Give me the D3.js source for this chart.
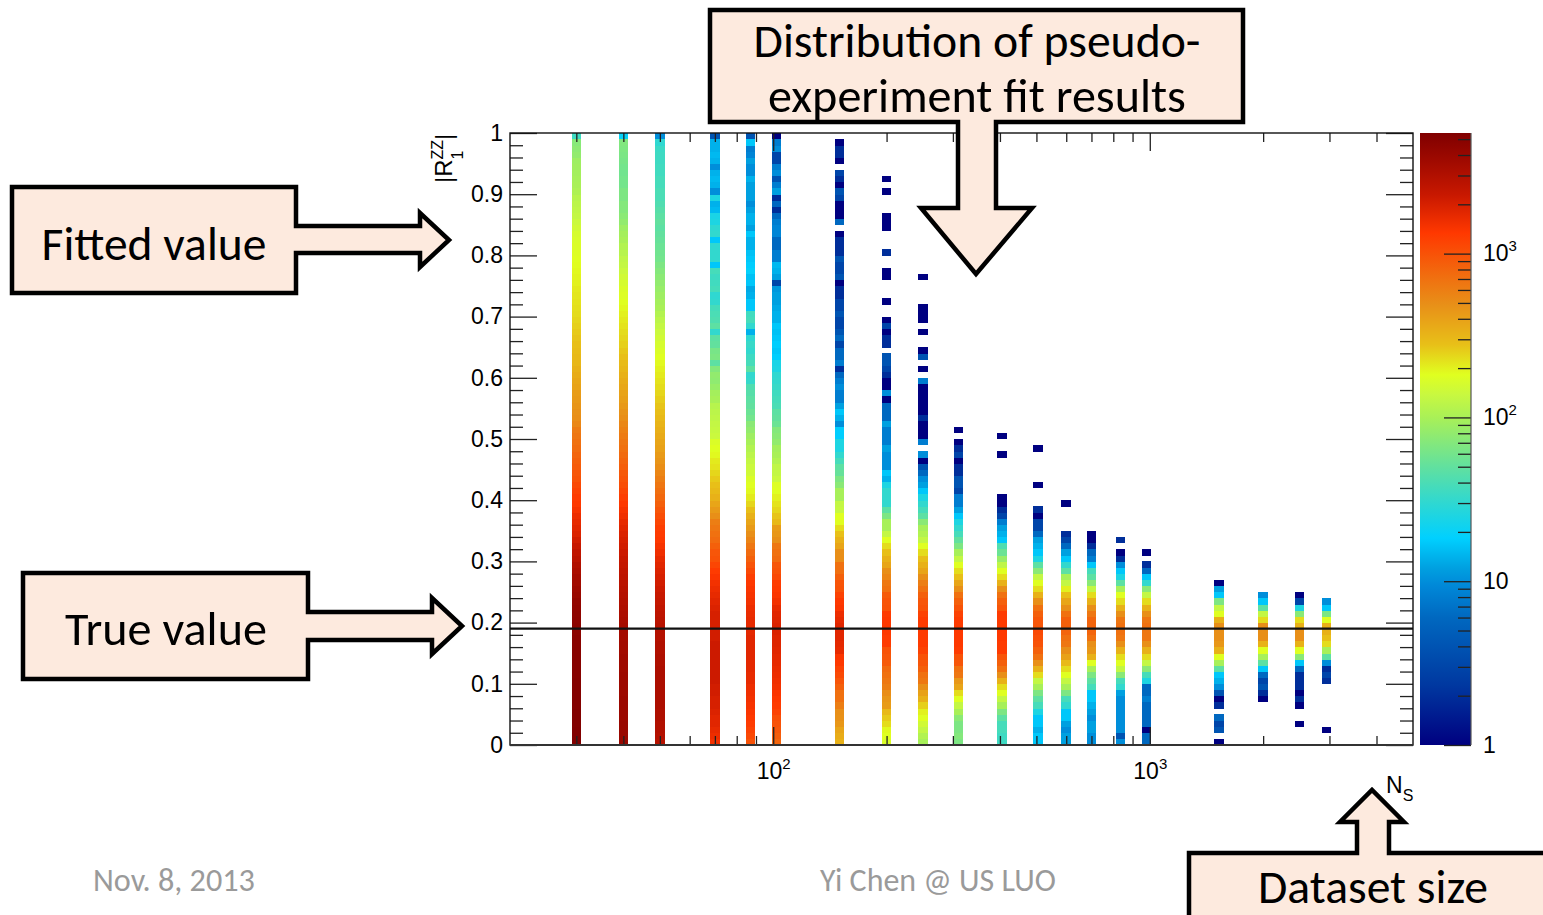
<!DOCTYPE html>
<html>
<head>
<meta charset="utf-8">
<script src="https://cdn.jsdelivr.net/npm/d3@7"></script>
<style>
  body { margin: 0; background: #fff; }
  svg { display: block; }
  .axis text { font-family: "Liberation Sans", Arial, sans-serif; font-size: 23px; fill: #000; }
  .axis line { stroke: #222; stroke-width: 1.3; }
  .axis path { display: none; }
</style>
</head>
<body>
<svg id="chart" width="1543" height="915"></svg>
<script>
// pseudo-experiment dataset sizes (x position of each column)
const nsValues = [30, 40, 50, 70, 87, 102, 150, 200, 250, 310, 405, 505, 600, 700, 835, 980, 1525, 2000, 2500, 2950];
// first y-bin (0.01 wide) of each column
const firstBin = [0, 0, 0, 0, 0, 0, 0, 0, 0, 0, 0, 0, 0, 0, 0, 0, 0, 7, 3, 2];

// entries per y-bin
const counts30 = [
  5400, 5400, 5400, 5300, 5300, 5300, 5200, 5200, 5200, 5100,
  5100, 5000, 5000, 5000, 4900, 4900, 4800, 4800, 4700, 4700,
  4600, 4500, 4400, 4300, 4000, 3800, 3600, 3400, 3200, 3000,
  2700, 2500, 2300, 2100, 1900, 1800, 1700, 1600, 1450, 1350,
  1300, 1200, 1100, 1000, 950, 900, 850, 800, 740, 700,
  660, 620, 540, 500, 480, 460, 440, 420, 390, 370,
  350, 330, 310, 300, 290, 280, 270, 260, 250, 240,
  230, 225, 220, 215, 210, 200, 195, 190, 185, 180,
  175, 170, 165, 160, 150, 140, 130, 125, 120, 115,
  105, 100, 98, 95, 92, 90, 80, 76, 72, 35];
const counts40 = [
  4000, 4000, 4000, 4000, 3900, 3900, 3900, 3900, 3800, 3800,
  3800, 3800, 3700, 3700, 3700, 3600, 3600, 3500, 3500, 3400,
  3300, 3200, 3100, 3000, 2900, 2800, 2700, 2600, 2500, 2400,
  2300, 2200, 2100, 2000, 1900, 1800, 1700, 1550, 1450, 1350,
  1250, 1150, 1050, 980, 920, 860, 800, 750, 700, 660,
  620, 580, 540, 500, 470, 440, 410, 390, 370, 350,
  330, 310, 295, 280, 265, 250, 240, 230, 220, 210,
  200, 190, 180, 175, 170, 160, 150, 140, 130, 125,
  115, 110, 100, 95, 90, 80, 75, 70, 70, 65,
  65, 60, 60, 58, 60, 62, 64, 66, 68, 20];
const counts50 = [
  2800, 2900, 3000, 3000, 3100, 3100, 3200, 3200, 3200, 3200,
  3200, 3200, 3200, 3100, 3100, 3000, 3000, 2900, 2900, 2800,
  2700, 2600, 2500, 2400, 2300, 2200, 2100, 2000, 1900, 1800,
  1700, 1550, 1450, 1350, 1300, 1250, 1150, 1050, 950, 850,
  780, 720, 660, 600, 550, 500, 460, 430, 400, 380,
  360, 340, 320, 300, 285, 270, 255, 240, 230, 220,
  210, 200, 190, 180, 170, 160, 150, 140, 130, 120,
  110, 100, 95, 90, 85, 80, 75, 70, 65, 60,
  58, 55, 52, 50, 48, 50, 48, 45, 42, 40,
  40, 38, 38, 36, 36, 35, 35, 34, 30, 10];
const counts70 = [
  1500, 1600, 1700, 1800, 1800, 1900, 2000, 2000, 2100, 2100,
  2200, 2200, 2200, 2200, 2200, 2200, 2200, 2100, 2100, 2000,
  2000, 2000, 1900, 1800, 1700, 1600, 1500, 1400, 1300, 1150,
  1000, 950, 850, 750, 700, 650, 600, 490, 430, 380,
  330, 300, 280, 260, 240, 220, 210, 190, 180, 170,
  140, 135, 130, 125, 120, 115, 100, 95, 85, 78,
  80, 70, 48, 65, 62, 50, 48, 31, 48, 42,
  40, 38, 31, 30, 38, 36, 35, 38, 17, 31,
  31, 30, 17, 31, 30, 25, 24, 15, 14, 25,
  10, 14, 15, 14, 10, 14, 15, 14, 14, 4];
const counts87 = [
  1000, 1100, 1200, 1300, 1350, 1400, 1450, 1500, 1550, 1600,
  1700, 1700, 1750, 1750, 1800, 1800, 1800, 1800, 1750, 1700,
  1700, 1650, 1600, 1500, 1450, 1400, 1350, 1250, 1100, 980,
  850, 750, 650, 560, 490, 430, 380, 330, 280, 240,
  210, 190, 180, 170, 150, 140, 130, 120, 110, 98,
  90, 80, 74, 60, 55, 50, 48, 45, 42, 32,
  31, 48, 38, 35, 31, 33, 30, 14, 31, 38,
  36, 17, 17, 14, 13, 17, 16, 19, 18, 17,
  16, 14, 14, 17, 12, 14, 14, 12, 10, 12,
  12, 12, 14, 10, 10, 12, 9, 8, 17, 4];
const counts102 = [
  800, 880, 950, 1000, 1050, 1200, 1300, 1350, 1400, 1500,
  1550, 1600, 1650, 1700, 1750, 1800, 1850, 1850, 1900, 1900,
  1850, 1800, 1700, 1500, 1400, 1350, 1300, 1100, 1000, 950,
  750, 700, 650, 490, 450, 420, 300, 270, 240, 220,
  200, 180, 175, 140, 130, 125, 110, 100, 95, 80,
  74, 70, 55, 50, 48, 40, 38, 36, 33, 31,
  30, 25, 24, 18, 17, 18, 17, 16, 17, 14,
  14, 13, 12, 12, 11, 3, 12, 14, 15, 8,
  8, 6, 6, 9, 9, 8, 6, 2, 6, 2,
  12, 8, 4, 10, 8, 3, 3, 10, 8, 1];
const counts150 = [
  330, 350, 380, 450, 480, 490, 600, 700, 710, 850,
  980, 1100, 1200, 1350, 1400, 1700, 1750, 1800, 1800, 1800,
  1700, 1600, 1400, 1350, 1200, 1000, 980, 850, 710, 700,
  500, 490, 380, 330, 277, 228, 183, 180, 135, 130,
  98, 98, 74, 65, 52, 48, 38, 31, 25, 25,
  18, 18, 10, 14, 17, 12, 8, 8, 10, 8,
  6, 2, 8, 6, 6, 3, 6, 4, 3, 3,
  4, 3, 3, 2, 2, 1, 4, 3, 3, 4,
  2, 2, 2, 1, 0, 6, 1, 1, 1, 3,
  4, 1, 2, 3, 0, 1, 2, 2, 1];
const counts200 = [
  170, 180, 190, 230, 260, 300, 420, 450, 500, 600,
  650, 700, 750, 900, 950, 1000, 1300, 1300, 1350, 1350,
  1350, 1300, 1000, 980, 900, 700, 650, 550, 490, 380,
  330, 280, 230, 180, 130, 98, 98, 65, 48, 31,
  31, 31, 25, 14, 17, 10, 10, 10, 12, 8,
  8, 8, 12, 6, 6, 6, 1, 10, 1, 1,
  2, 3, 4, 4, 0, 2, 2, 1, 3, 1,
  0, 0, 1, 0, 0, 0, 1, 1, 0, 0,
  2, 0, 0, 0, 1, 1, 1, 0, 0, 0,
  1, 0, 1];
const counts250 = [
  98, 110, 130, 150, 180, 200, 250, 330, 400, 490,
  650, 700, 850, 950, 1000, 1200, 1300, 1300, 1300, 1300,
  1300, 1200, 1000, 950, 850, 700, 600, 490, 380, 330,
  280, 230, 180, 130, 110, 98, 74, 48, 38, 31,
  25, 17, 12, 10, 6, 4, 1, 10, 0, 8,
  1, 1, 1, 2, 1, 1, 1, 1, 1, 8,
  0, 1, 0, 4, 1, 0, 0, 1, 0, 1,
  1, 1, 0, 0, 0, 0, 1];
const counts310 = [
  65, 70, 65, 65, 75, 100, 130, 180, 230, 380,
  450, 650, 700, 950, 1000, 1300, 1350, 1350, 1350, 1300,
  1300, 1200, 1000, 850, 700, 490, 380, 280, 230, 180,
  130, 98, 65, 50, 38, 31, 25, 17, 12, 8,
  8, 3, 4, 4, 2, 2, 1, 3, 2, 1, 0, 1];
const counts405 = [
  35, 35, 38, 38, 48, 65, 98, 130, 180, 230,
  330, 490, 700, 850, 980, 1300, 1300, 1350, 1350, 1300,
  1300, 1300, 980, 850, 700, 490, 330, 230, 180, 125,
  85, 55, 42, 17, 14, 12, 8, 3, 2, 1,
  1, 0, 0, 0, 0, 0, 0, 1, 0, 0, 1];
const counts505 = [
  17, 17, 14, 17, 17, 25, 38, 48, 65, 98,
  130, 230, 330, 490, 700, 850, 1000, 1050, 1100, 950,
  950, 850, 700, 490, 330, 230, 180, 130, 74, 48,
  25, 17, 14, 12, 6, 3, 3, 1, 2, 0,
  0, 0, 1, 0, 0, 0, 0, 0, 1];
const counts600 = [
  12, 12, 10, 12, 17, 17, 31, 38, 65, 98,
  130, 180, 230, 300, 400, 490, 650, 700, 800, 850,
  850, 700, 490, 380, 280, 200, 130, 98, 48, 31,
  17, 12, 6, 3, 2, 0, 0, 0, 0, 1];
const counts700 = [
  10, 10, 12, 12, 10, 12, 14, 17, 17, 38,
  48, 65, 98, 180, 330, 450, 490, 700, 800, 800,
  800, 650, 490, 330, 230, 130, 74, 48, 38, 17,
  8, 6, 2, 1, 1];
const counts835 = [
  10, 4, 10, 10, 10, 10, 10, 10, 12, 31,
  38, 74, 130, 180, 230, 330, 490, 650, 700, 700,
  650, 490, 330, 230, 180, 98, 48, 25, 17, 10,
  2, 1, 0, 2];
const counts980 = [
  6, 6, 1, 6, 6, 6, 6, 8, 6, 6,
  25, 38, 74, 130, 230, 330, 490, 650, 650, 700,
  650, 490, 330, 230, 130, 74, 31, 17, 6, 2,
  0, 1];
const counts1525 = [
  1, 0, 4, 3, 6, 0, 2, 1, 4, 10,
  14, 17, 48, 98, 180, 330, 450, 490, 490, 490,
  330, 180, 130, 65, 17, 12, 1];
const counts2000 = [1, 2, 4, 3, 6, 17, 48, 98, 180, 330, 490, 490, 490, 230, 130, 48, 17, 10];
const counts2500 = [1, 0, 0, 1, 2, 1, 2, 2, 2, 6, 17, 74, 180, 330, 490, 490, 330, 230, 74, 25, 3, 1];
const counts2950 = [1, 0, 0, 0, 0, 0, 0, 0, 2, 3, 2, 10, 48, 98, 230, 280, 330, 330, 180, 65, 17, 10];

const allCounts = [counts30, counts40, counts50, counts70, counts87, counts102, counts150, counts200,
  counts250, counts310, counts405, counts505, counts600, counts700, counts835, counts980,
  counts1525, counts2000, counts2500, counts2950];

const binWidth = 0.01;
const trueValue = 0.19;
const zMax = 5450;
const yMajorTicks = [0, 0.1, 0.2, 0.3, 0.4, 0.5, 0.6, 0.7, 0.8, 0.9, 1];
const xMajorTicks = [100, 1000];
const xMinorTicks = [30, 40, 50, 60, 70, 80, 90, 200, 300, 400, 500, 600, 700, 800, 900, 2000, 3000, 4000];
const zMajorTicks = [1, 10, 100, 1000];

// palette stops: fraction of log(z) range -> colour
const paletteStops = [0, 0.098, 0.208, 0.26, 0.289, 0.338, 0.397, 0.453, 0.534, 0.572, 0.605, 0.654, 0.719, 0.763, 0.837, 0.899, 0.954, 1];
const paletteColors = ['#000080', '#0038a0', '#0068c0', '#0088d8', '#00a0e0', '#00d0ff', '#30d8d0', '#60e0a0',
  '#a8f058', '#c8f840', '#e0ff20', '#e8c018', '#e89018', '#f07010', '#ff3800', '#c81800', '#a00a00', '#800000'];

// Set up the chart dimensions
const plot = { left: 510, right: 1413, top: 133, bottom: 745 };
const bar = { left: 1420, right: 1471 };
const colHalfDex = 0.0126;

const svg = d3.select('#chart');

const xScale = d3.scaleLog().domain([20, 5000]).range([plot.left, plot.right]);
const yScale = d3.scaleLinear().domain([0, 1]).range([plot.bottom, plot.top]);
const zScale = d3.scaleLog().domain([1, zMax]).range([plot.bottom, plot.top]);
const tScale = d3.scaleLog().domain([1, zMax]).range([0, 1]).clamp(true);
const palette = d3.scaleLinear().domain(paletteStops).range(paletteColors).interpolate(d3.interpolateRgb);
const colorOf = v => palette(tScale(v));

// Create the cells
const cells = [];
nsValues.forEach((n, i) => {
  allCounts[i].forEach((c, j) => {
    if (c > 0) cells.push({ n: n, bin: firstBin[i] + j, count: c });
  });
});
const half = Math.pow(10, colHalfDex);

svg.append('g')
  .selectAll('rect')
  .data(cells)
  .enter()
  .append('rect')
  .attr('x', d => xScale(d.n / half))
  .attr('width', d => xScale(d.n * half) - xScale(d.n / half))
  .attr('y', d => yScale((d.bin + 1) * binWidth))
  .attr('height', d => yScale(d.bin * binWidth) - yScale((d.bin + 1) * binWidth) + 0.3)
  .attr('fill', d => colorOf(d.count))
  .attr('shape-rendering', 'crispEdges');

// true value line
svg.append('line')
  .attr('x1', plot.left).attr('x2', plot.right)
  .attr('y1', yScale(trueValue)).attr('y2', yScale(trueValue))
  .attr('stroke', '#111').attr('stroke-width', 2.2);

// axes
const yMinor = d3.range(0, 1.001, 0.02).filter(v => Math.abs(v * 10 - Math.round(v * 10)) > 1e-6);

svg.append('g').attr('class', 'axis')
  .attr('transform', `translate(${plot.left},0)`)
  .call(d3.axisLeft(yScale).tickValues(yMajorTicks).tickSizeInner(-27).tickSizeOuter(0).tickPadding(7)
    .tickFormat(d => d === 0 || d === 1 ? String(d) : d3.format('.1f')(d)));
svg.append('g').attr('class', 'axis')
  .attr('transform', `translate(${plot.left},0)`)
  .call(d3.axisLeft(yScale).tickValues(yMinor).tickSizeInner(-13).tickSizeOuter(0).tickFormat(''));
svg.append('g').attr('class', 'axis')
  .attr('transform', `translate(${plot.right},0)`)
  .call(d3.axisRight(yScale).tickValues(yMajorTicks).tickSizeInner(-27).tickSizeOuter(0).tickFormat(''));
svg.append('g').attr('class', 'axis')
  .attr('transform', `translate(${plot.right},0)`)
  .call(d3.axisRight(yScale).tickValues(yMinor).tickSizeInner(-13).tickSizeOuter(0).tickFormat(''));

const xAxisG = svg.append('g').attr('class', 'axis')
  .attr('transform', `translate(0,${plot.bottom})`)
  .call(d3.axisBottom(xScale).tickValues(xMajorTicks).tickSizeInner(-18).tickSizeOuter(0).tickPadding(18)
    .tickFormat(() => ''));
xAxisG.selectAll('.tick text').each(function (d) {
  const t = d3.select(this);
  t.append('tspan').text('10');
  t.append('tspan').attr('dy', -10).attr('font-size', 15).text(Math.round(Math.log10(d)));
});
svg.append('g').attr('class', 'axis')
  .attr('transform', `translate(0,${plot.bottom})`)
  .call(d3.axisBottom(xScale).tickValues(xMinorTicks).tickSizeInner(-9).tickSizeOuter(0).tickFormat(''));
svg.append('g').attr('class', 'axis')
  .attr('transform', `translate(0,${plot.top})`)
  .call(d3.axisTop(xScale).tickValues(xMajorTicks).tickSizeInner(-18).tickSizeOuter(0).tickFormat(''));
svg.append('g').attr('class', 'axis')
  .attr('transform', `translate(0,${plot.top})`)
  .call(d3.axisTop(xScale).tickValues(xMinorTicks).tickSizeInner(-9).tickSizeOuter(0).tickFormat(''));

// frame
svg.append('rect')
  .attr('x', plot.left).attr('y', plot.top)
  .attr('width', plot.right - plot.left).attr('height', plot.bottom - plot.top)
  .attr('fill', 'none').attr('stroke', '#111').attr('stroke-width', 1.4);
svg.append('line')
  .attr('x1', plot.left).attr('x2', plot.right).attr('y1', plot.bottom).attr('y2', plot.bottom)
  .attr('stroke', '#333').attr('stroke-width', 2.2);

// axis titles
const yTitle = svg.append('text')
  .attr('transform', `translate(452,183) rotate(-90)`)
  .attr('font-family', '"Liberation Sans", Arial, sans-serif')
  .attr('font-size', 24);
yTitle.append('tspan').text('|R');
yTitle.append('tspan').attr('dy', -9).attr('font-size', 16).text('ZZ');
yTitle.append('tspan').attr('dx', -19.6).attr('dy', 20).attr('font-size', 16).text('1');
yTitle.append('tspan').attr('dx', 10.7).attr('dy', -11).text('|');

const xTitle = svg.append('text')
  .attr('x', 1386).attr('y', 793)
  .attr('font-family', '"Liberation Sans", Arial, sans-serif')
  .attr('font-size', 23);
xTitle.append('tspan').text('N');
xTitle.append('tspan').attr('dy', 8).attr('font-size', 16).text('S');

// colour bar
const grad = svg.append('defs').append('linearGradient')
  .attr('id', 'zgrad').attr('x1', 0).attr('y1', 1).attr('x2', 0).attr('y2', 0);
grad.selectAll('stop')
  .data(paletteStops)
  .enter()
  .append('stop')
  .attr('offset', d => d)
  .attr('stop-color', (d, i) => paletteColors[i]);

svg.append('rect')
  .attr('x', bar.left).attr('y', plot.top)
  .attr('width', bar.right - bar.left).attr('height', plot.bottom - plot.top)
  .attr('fill', 'url(#zgrad)');

const zMinor = [];
[1, 10, 100, 1000].forEach(dec => {
  for (let k = 2; k <= 9; k++) if (dec * k < zMax) zMinor.push(dec * k);
});

const zAxisG = svg.append('g').attr('class', 'axis')
  .attr('transform', `translate(${bar.right},0)`)
  .call(d3.axisRight(zScale).tickValues(zMajorTicks).tickSizeInner(-27).tickSizeOuter(0).tickPadding(12)
    .tickFormat(() => ''));
zAxisG.selectAll('.tick text').each(function (d) {
  const t = d3.select(this);
  if (d < 100) {
    t.text(String(d));
  } else {
    t.append('tspan').text('10');
    t.append('tspan').attr('dy', -10).attr('font-size', 15).text(Math.round(Math.log10(d)));
  }
});
svg.append('g').attr('class', 'axis')
  .attr('transform', `translate(${bar.right},0)`)
  .call(d3.axisRight(zScale).tickValues(zMinor).tickSizeInner(-13).tickSizeOuter(0).tickFormat(''));
svg.append('line')
  .attr('x1', bar.right).attr('x2', bar.right).attr('y1', plot.top).attr('y2', plot.bottom)
  .attr('stroke', '#555').attr('stroke-width', 1.2);

// annotation callouts
const calloutFill = '#fdeade';
const callouts = [
  'M12,187 H296 V226 H420 V213 L449,240 L420,267 V253 H296 V293 H12 Z',
  'M23,573 H308 V612 H432 V598 L462,626 L432,654 V640 H308 V679 H23 Z',
  'M710,10 H1243 V122 H996 V208 H1032 L976,274 L921,208 H958 V122 H710 Z',
  'M1189,930 V853 H1357 V822 H1340 L1372,790 L1404,822 H1389 V853 H1560 V930 Z'
];
svg.append('g')
  .selectAll('path')
  .data(callouts)
  .enter()
  .append('path')
  .attr('d', d => d)
  .attr('fill', calloutFill)
  .attr('stroke', '#000')
  .attr('stroke-width', 4.5)
  .attr('stroke-linejoin', 'miter');

const labelFont = 'Carlito, Calibri, Lato, "Open Sans", sans-serif';
const noteTexts = [
  { text: 'Fitted value', x: 154, y: 260, w: 225 },
  { text: 'True value', x: 166, y: 645, w: 202 },
  { text: 'Distribution of pseudo-', x: 977, y: 57, w: 447 },
  { text: 'experiment fit results', x: 977, y: 112, w: 418 },
  { text: 'Dataset size', x: 1373, y: 903, w: 230 }
];
noteTexts.forEach(d => {
  const t = svg.append('text')
    .attr('x', d.x).attr('y', d.y)
    .attr('text-anchor', 'middle')
    .attr('font-family', labelFont)
    .attr('font-size', 40)
    .attr('fill', '#000')
    .text(d.text);
  const w = t.node().getComputedTextLength();
  t.attr('font-size', 40 * d.w / w);
});

const footTexts = [
  { text: 'Nov. 8, 2013', x: 93, y: 891, w: 162 },
  { text: 'Yi Chen @ US LUO', x: 820, y: 891, w: 236 }
];
footTexts.forEach(d => {
  const t = svg.append('text')
    .attr('x', d.x).attr('y', d.y)
    .attr('font-family', labelFont)
    .attr('font-size', 26)
    .attr('fill', '#9a9a9a')
    .text(d.text);
  const w = t.node().getComputedTextLength();
  t.attr('font-size', 26 * d.w / w);
});
</script>
</body>
</html>
